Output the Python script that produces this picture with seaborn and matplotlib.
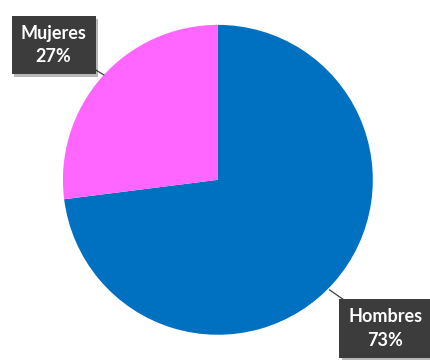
import seaborn as sns
from matplotlib import pyplot as plt
from matplotlib import patheffects as pe

labels = ["Hombres", "Mujeres"]
shares = [73, 27]
colors = ["#0070C0", "#FF66FF"]


def plot_pie(file_name):
    sns.set_theme(style="white")
    plt.rcParams['font.family'] = ['Lato', 'DejaVu Sans']

    fig = plt.figure(figsize=(4.31, 3.6), dpi=100)
    ax = fig.add_axes([0.146, 0.07, 0.719, 0.861])
    ax.pie(shares, colors=colors, startangle=90, counterclock=False,
           wedgeprops={'linewidth': 0})
    ax.set_xlim(-1, 1)
    ax.set_ylim(-1, 1)
    ax.axis('off')

    # label boxes: (text position, point on the pie edge)
    spots = {
        "Hombres": ((1.08, -0.96), (0.72, -0.71)),
        "Mujeres": ((-1.06, 0.87), (-0.735, 0.677)),
    }
    for name, share in zip(labels, shares):
        text_xy, edge_xy = spots[name]
        ann = ax.annotate(f"{name}\n{share}%", xy=edge_xy, xytext=text_xy,
                          ha='center', va='center', fontsize=13, fontweight='bold',
                          color='white', linespacing=1.45, annotation_clip=False,
                          bbox=dict(boxstyle='square,pad=0.5', facecolor='#3c3c3c',
                                    edgecolor='none'),
                          arrowprops=dict(arrowstyle='-', color='#404040', lw=0.9,
                                          shrinkA=0, shrinkB=0))
        ann.get_bbox_patch().set_path_effects(
            [pe.SimplePatchShadow(offset=(2, -2), alpha=0.3), pe.Normal()])

    plt.savefig(file_name, dpi=100)


def main():
    plot_pie("out.png")


if __name__ == "__main__":
    main()
